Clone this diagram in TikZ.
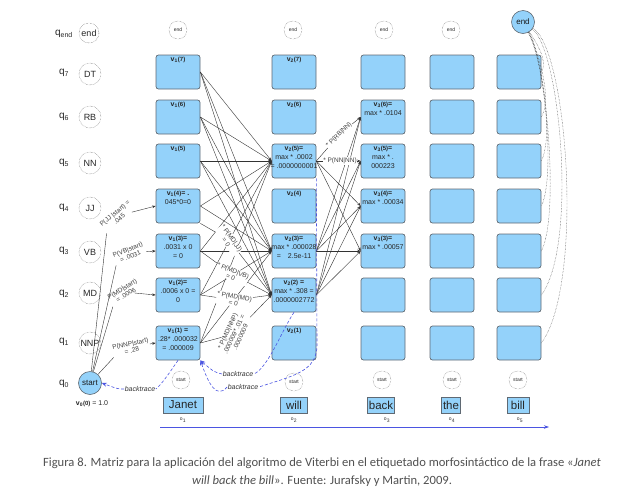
\documentclass[tikz,border=0pt]{standalone}
\usepackage{fontspec}
\setmainfont{Liberation Sans}
\newfontfamily\capfont{Carlito}
\usetikzlibrary{arrows.meta}
\definecolor{cellblue}{RGB}{148,210,250}
\definecolor{cellborder}{RGB}{95,105,115}
\definecolor{btblue}{RGB}{75,85,225}
\definecolor{capgray}{RGB}{80,80,80}
\newcommand\myfs[1]{\fontsize{#1}{#1}\selectfont}
\newcommand\vt[2]{\textbf{v\textsubscript{#1}{\myfs{6}(#2)}}}
\begin{document}
\begin{tikzpicture}[x=1pt,y=-1pt,
  cell/.style={draw=cellborder,fill=cellblue,rounded corners=2.5pt,minimum width=44pt,minimum height=34pt,inner sep=0pt,line width=0.7pt},
  ctext/.style={anchor=north,inner sep=2pt,align=center,font=\fontsize{7}{8.5}\selectfont,text=black!85},
  state/.style={circle,draw=black!70,densely dotted,minimum size=22pt,inner sep=0pt,font=\myfs{9},text=black!85},
  smallc/.style={circle,draw=black!70,densely dotted,minimum size=18pt,inner sep=0pt,font=\myfs{5},text=black!85},
  bluec/.style={circle,draw=cellborder,fill=cellblue,minimum size=23pt,inner sep=0pt,font=\myfs{8},text=black!90,line width=0.6pt},
  qlab/.style={font=\myfs{10},text=black!85},
  word/.style={draw=cellborder,fill=cellblue,line width=0.7pt,minimum height=16pt,inner sep=1.5pt,font=\myfs{11.5},text=black!85},
  olab/.style={font=\myfs{5},text=black!80},
  elab/.style={fill=white,inner sep=0.5pt,align=center,font=\fontsize{6.5}{7}\selectfont,text=black!75},
  edge/.style={draw=black!80,line width=0.4pt,-{Stealth[length=3.5pt,width=2.6pt]}},
  plain/.style={draw=black!80,line width=0.4pt},
  bt/.style={draw=btblue,dashed,dash pattern=on 3pt off 2pt,line width=0.6pt},
  btarrow/.style={bt,-{Stealth[length=5pt,width=4pt]}},
  btlbl/.style={inner sep=0.5pt,font=\itshape\myfs{7},text=black!80},
  endc/.style={draw=black!75,densely dotted,line width=0.45pt}
]
\useasboundingbox (0,0) rectangle (644,501);

% cells
\foreach \c/\x in {1/178,2/294,3/383,4/452,5/519}
  \foreach \r/\y in {7/72,6/117,5/161,4/206,3/251,2/295,1/343}
    \node[cell] (c\c r\r) at (\x,\y) {};

% row labels and states
\node[qlab] (qe) at (64,34) {q\textsubscript{end}};
\node[qlab] (q7) at (64,73) {q\textsubscript{7}};
\node[qlab] (q6) at (64,117) {q\textsubscript{6}};
\node[qlab] (q5) at (64,163) {q\textsubscript{5}};
\node[qlab] (q4) at (64,208) {q\textsubscript{4}};
\node[qlab] (q3) at (64,251) {q\textsubscript{3}};
\node[qlab] (q2) at (64,294) {q\textsubscript{2}};
\node[qlab] (q1) at (64,342) {q\textsubscript{1}};
\node[qlab] (q0) at (64,384) {q\textsubscript{0}};

\node[state,minimum size=20pt] (send) at (89,33) {end};
\node[state] (sDT) at (90,74) {DT};
\node[state] (sRB) at (90,117) {RB};
\node[state] (sNN) at (90,163) {NN};
\node[state] (sJJ) at (90,208) {JJ};
\node[state] (sVB) at (90,252) {VB};
\node[state] (sMD) at (90,293) {MD};
\node[state] (sNNP) at (90,343) {NNP};
\node[bluec] (start) at (90,383) {start};
\node[font=\myfs{7},text=black!85] (v00) at (92,404) {\textbf{v\textsubscript{0}{\myfs{6}(0)}} = 1.0};

% top end circles
\node[smallc] (e1) at (178,30) {end};
\node[smallc] (e2) at (293,30) {end};
\node[smallc] (e3) at (384,30) {end};
\node[smallc] (e4) at (451,30) {end};
\node[bluec] (end) at (523,22) {end};

% start circles
\node[smallc] (st1) at (181,380) {start};
\node[smallc] (st2) at (294,382) {start};
\node[smallc] (st3) at (382,380) {start};
\node[smallc] (st4) at (452,380) {start};
\node[smallc] (st5) at (518,380) {start};

% words
\node[word,minimum width=40pt] (w1) at (183,405) {Janet};
\node[word,minimum width=27pt] (w2) at (294,405) {will};
\node[word,minimum width=24pt] (w3) at (381,405) {back};
\node[word,minimum width=16pt] (w4) at (451,405) {the};
\node[word,minimum width=22pt] (w5) at (518,405) {bill};
\node[olab] (o1) at (183,420) {o\textsubscript{1}};
\node[olab] (o2) at (294,420) {o\textsubscript{2}};
\node[olab] (o3) at (387,420) {o\textsubscript{3}};
\node[olab] (o4) at (452,420) {o\textsubscript{4}};
\node[olab] (o5) at (520,420) {o\textsubscript{5}};
\coordinate (ax0) at (160,427);
\coordinate (ax1) at (549,427);
\draw[draw=btblue,line width=0.7pt,-{Stealth[length=5pt,width=3.5pt]}] (ax0) -- (ax1);

% cell texts
\node[ctext] at (c1r7.north) {\vt{1}{7}};
\node[ctext] at (c1r6.north) {\vt{1}{6}};
\node[ctext] at (c1r5.north) {\vt{1}{5}};
\node[ctext] at (c1r4.north) {\vt{1}{4}\textbf{= .}\\[1pt]045*0=0};
\node[ctext] at (c1r3.north) {\vt{1}{3}\textbf{=}\\[1pt].0031 x 0\\= 0};
\node[ctext] at (c1r2.north) {\vt{1}{2}\textbf{=}\\[1pt].0006 x 0 =\\0};
\node[ctext] at (c1r1.north) {\vt{1}{1} \textbf{=}\\[1pt].28* .000032\\= .000009};
\node[ctext] at (c2r7.north) {\vt{2}{7}};
\node[ctext] at (c2r6.north) {\vt{2}{6}};
\node[ctext] at (c2r5.north) {\vt{2}{5}\textbf{=}\\[1pt]max * .0002\\= .0000000001};
\node[ctext] at (c2r4.north) {\vt{2}{4}};
\node[ctext] at (c2r3.north) {\vt{2}{3}\textbf{=}\\[1pt]max * .000028\\=\quad 2.5e-11};
\node[ctext] at (c2r2.north) {\vt{2}{2} \textbf{=}\\[1pt]max * .308 =\\.0000002772};
\node[ctext] at (c2r1.north) {\vt{2}{1}};
\node[ctext] at (c3r6.north) {\vt{3}{6}\textbf{=}\\[1pt]max * .0104};
\node[ctext] at (c3r5.north) {\vt{3}{5}\textbf{=}\\[1pt]max * .\\000223};
\node[ctext] at (c3r4.north) {\vt{3}{4}\textbf{=}\\[1pt]max * .00034};
\node[ctext] at (c3r3.north) {\vt{3}{3}\textbf{=}\\[1pt]max * .00057};

% start -> column 1
\node[elab,rotate=40] (lJJ) at (117,216) {P(JJ |start) =\\.045};
\node[elab,rotate=22] (lVB) at (129,253) {P(VB|start)\\= .0031};
\node[elab,rotate=32] (lMD) at (124,292) {P(MD|start)\\= .0006};
\node[elab,rotate=12] (lNNP) at (131,347) {P(NNP|start)\\= .28};
\draw[plain] (start) -- (lJJ.south west);
\draw[plain] (start) -- (lVB.south west);
\draw[plain] (start) -- (lMD.south west);
\draw[plain] (start) -- (lNNP.south west);
\draw[edge] (lJJ) -- (c1r4.west);
\draw[edge] (lVB) -- (c1r3.west);
\draw[edge] (lMD) -- (c1r2.west);
\draw[edge] (lNNP) -- (c1r1.west);

% column 1 -> column 2
\foreach \a in {7,6,5,4,3,2,1}
  \foreach \b in {5,3}
    \draw[edge] (c1r\a.east) -- (c2r\b.west);
\foreach \a in {7,6,5}
  \draw[edge] (c1r\a.east) -- (c2r2.west);
\node[elab,rotate=-55] (lMDJJ) at (229,240) {* P(MD|JJ)\\= 0};
\node[elab,rotate=-22] (lMDVB) at (232,274) {* P(MD|VB)\\= 0};
\node[elab,rotate=-10] (lMDMD) at (234,300) {* P(MD|MD)\\= 0};
\node[elab,rotate=65] (lMDNNP) at (234,334) {* P(MD|NNP)\\.000009* .01 =\\.0000009};
\draw[plain] (c1r4.south east) -- (lMDJJ);
\draw[plain] (c1r3.east) -- (lMDVB);
\draw[plain] (c1r2.east) -- (lMDMD);
\draw[plain] (c1r1.east) -- (lMDNNP);
\draw[edge] (lMDJJ) -- (c2r2.west);
\draw[edge] (lMDVB) -- (c2r2.west);
\draw[edge] (lMDMD) -- (c2r2.west);
\draw[edge] (lMDNNP) -- (c2r2.west);

% column 2 -> column 3
\foreach \a in {3,2}
  \foreach \b in {6,5,4,3}
    \draw[edge] (c2r\a.east) -- (c3r\b.west);
\foreach \b in {4,3}
  \draw[edge] (c2r5.east) -- (c3r\b.west);
\node[elab,rotate=45] (lRBNN) at (339,135) {* P(RB|NN)};
\node[elab] (lNNNN) at (340,161) {* P(NN|NN)};
\draw[plain] (c2r5.east) -- (lRBNN);
\draw[edge] (lRBNN) -- (c3r6.west);
\draw[plain] (c2r5.east) -- (lNNNN);
\draw[edge] (lNNNN) -- (c3r5.west);

% end curves
\draw[endc] (end) .. controls (538,45) and (548,62) .. (c5r7.east);
\draw[endc] (end) .. controls (540,55) and (552,100) .. (c5r6.east);
\draw[endc] (end) .. controls (542,60) and (554,135) .. (c5r5.east);
\draw[endc] (end) .. controls (544,60) and (556,175) .. (c5r4.east);
\draw[endc] (end) .. controls (546,60) and (560,215) .. (c5r3.east);
\draw[endc] (end) .. controls (560,50) and (578,245) .. (c5r2.east);
\draw[endc] (end) .. controls (568,50) and (584,285) .. (c5r1.east);

% backtraces
\node[btlbl] (bt0) at (140,389) {backtrace};
\node[btlbl] (bt1) at (238,374) {backtrace};
\node[btlbl] (bt2) at (243,387) {backtrace};
\coordinate (btv) at (317,345);
\draw[bt] (c1r1.south) .. controls (170,372) and (162,384) .. (bt0.east);
\draw[btarrow] (bt0.west) .. controls (118,389) .. (start.east);
\draw[bt] (c2r2.south) .. controls (282,330) and (268,368) .. (bt1.east);
\draw[btarrow] (bt1.west) .. controls (214,372) .. (c1r1.south east);
\draw[bt] (c2r5.south east) -- (btv) .. controls (317,372) and (292,376) .. (bt2.east);
\draw[btarrow] (bt2.west) .. controls (216,400) and (208,382) .. (c1r1.south east);

% caption
\node[font=\capfont\fontsize{12.6}{18}\selectfont,text=capgray,align=center] (cap) at (322,472)
  {Figura 8. Matriz para la aplicación del algoritmo de Viterbi en el etiquetado morfosintáctico de la frase «\textit{Janet}\\\textit{will back the bill}». Fuente: Jurafsky y Martin, 2009.};
\end{tikzpicture}
\end{document}
